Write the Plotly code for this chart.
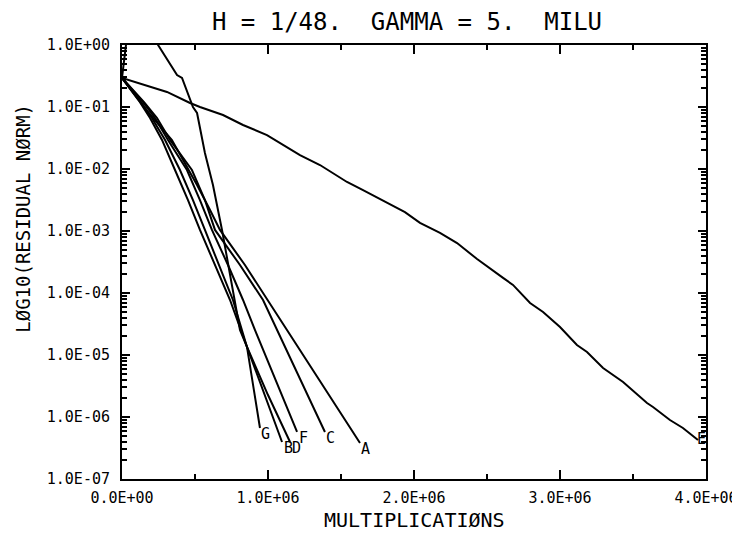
import math
import plotly.graph_objects as go

# ---- data (x in multiplications, y = residual norm) ----
A_x = [0, 0.089e6, 0.178e6, 0.342e6, 0.411e6, 0.514e6, 0.603e6, 0.671e6, 0.842e6, 1.000e6, 1.130e6, 1.630e6]
A_y = [0.294, 0.156, 0.083, 0.0294, 0.0150, 0.00552, 0.00218, 0.00104, 2.83e-4, 7.71e-5, 2.53e-5, 3.81e-7]

B_x = [0, 0.123e6, 0.192e6, 0.274e6, 0.363e6, 0.452e6, 0.534e6, 0.637e6, 0.740e6, 0.856e6, 0.979e6, 1.096e6]
B_y = [0.294, 0.120, 0.0665, 0.0294, 0.00964, 0.00316, 0.00104, 2.83e-4, 7.71e-5, 1.35e-5, 2.26e-6, 3.95e-7]

C_x = [0, 0.151e6, 0.240e6, 0.329e6, 0.479e6, 0.568e6, 0.637e6, 0.808e6, 0.966e6, 1.062e6, 1.390e6]
C_y = [0.294, 0.120, 0.0665, 0.0294, 0.00964, 0.00316, 0.00104, 2.83e-4, 7.71e-5, 2.53e-5, 5.73e-7]

D_x = [0, 0.130e6, 0.205e6, 0.295e6, 0.397e6, 0.486e6, 0.568e6, 0.664e6, 0.760e6, 0.856e6, 1.000e6, 1.151e6]
D_y = [0.294, 0.120, 0.0665, 0.0294, 0.00964, 0.00316, 0.00104, 2.83e-4, 7.71e-5, 1.35e-5, 2.26e-6, 3.95e-7]

E_x = [0, 0.308e6, 0.466e6, 0.534e6, 0.692e6, 0.829e6, 0.993e6, 1.219e6, 1.356e6, 1.541e6, 1.651e6,
       1.815e6, 1.938e6, 2.041e6, 2.178e6, 2.295e6, 2.432e6, 2.610e6, 2.678e6, 2.795e6, 2.884e6,
       3.000e6, 3.116e6, 3.185e6, 3.295e6, 3.432e6, 3.596e6, 3.637e6, 3.753e6, 3.842e6, 3.945e6]
E_y = [0.294, 0.175, 0.116, 0.100, 0.0743, 0.0513, 0.0353, 0.0168, 0.0116, 0.00617, 0.00458,
       0.00283, 0.00202, 0.00135, 9.29e-4, 6.40e-4, 3.53e-4, 1.75e-4, 1.35e-4, 6.90e-5, 4.94e-5,
       2.83e-5, 1.45e-5, 1.12e-5, 6.17e-6, 3.67e-6, 1.68e-6, 1.45e-6, 8.95e-7, 6.65e-7, 4.26e-7]

F_x = [0, 0.144e6, 0.226e6, 0.315e6, 0.445e6, 0.534e6, 0.616e6, 0.726e6, 0.829e6, 0.911e6, 1.199e6]
F_y = [0.294, 0.120, 0.0665, 0.0294, 0.00964, 0.00316, 0.00104, 2.83e-4, 7.71e-5, 2.53e-5, 5.73e-7]

G_x = [0, 0.062e6, 0.247e6, 0.377e6, 0.411e6, 0.486e6, 0.514e6, 0.568e6, 0.623e6, 0.685e6, 0.808e6, 0.856e6, 0.945e6]
G_y = [0.294, 4.8, 1.0, 0.328, 0.294, 0.100, 0.080, 0.0181, 0.00552, 0.00104, 2.53e-5, 1.35e-5, 6.65e-7]

series_names = ["A", "B", "C", "D", "E", "F", "G"]
series_x = [A_x, B_x, C_x, D_x, E_x, F_x, G_x]
series_y = [A_y, B_y, C_y, D_y, E_y, F_y, G_y]

x_tickvals = [0, 1e6, 2e6, 3e6, 4e6]
x_ticktext = ["0.0E+00", "1.0E+06", "2.0E+06", "3.0E+06", "4.0E+06"]
y_tickvals = [1e0, 1e-1, 1e-2, 1e-3, 1e-4, 1e-5, 1e-6, 1e-7]
y_ticktext = ["1.0E+00", "1.0E-01", "1.0E-02", "1.0E-03", "1.0E-04", "1.0E-05", "1.0E-06", "1.0E-07"]

title_text = "H = 1/48.  GAMMA = 5.  MILU"
x_title = "MULTIPLICATIØNS"
y_title = "LØG10(RESIDUAL NØRM)"

FONT = "DejaVu Sans Mono"

# minor tick positions (styling only)
x_minor = [0.5e6, 1.5e6, 2.5e6, 3.5e6]
y_minor = [k * 10.0 ** (-d) for d in range(1, 8) for k in range(2, 10)]

# the page body adds an 8px offset, so the figure is 8px smaller than the window
W, H = 732, 534

fig = go.Figure()
for name, xs, ys in zip(series_names, series_x, series_y):
    fig.add_trace(go.Scatter(x=xs, y=ys, mode="lines", name=name,
                             line=dict(color="black", width=2), showlegend=False))
    fig.add_annotation(x=xs[-1], y=math.log10(ys[-1]), xref="x", yref="y", text=name,
                       showarrow=False, xanchor="center", yanchor="middle",
                       xshift=6 if name != "E" else 4, yshift=-6 if name != "E" else 1,
                       font=dict(family=FONT, size=15, color="black"))

axis_common = dict(showgrid=False, zeroline=False, showline=True, linecolor="black",
                   linewidth=2, mirror="allticks", ticks="inside", tickcolor="black",
                   tickwidth=2, automargin=False,
                   tickfont=dict(family=FONT, size=15, color="black"))

fig.update_xaxes(range=[0, 4e6], tickmode="array", tickvals=x_tickvals, ticktext=x_ticktext,
                 ticklen=9, ticklabelstandoff=4,
                 minor=dict(ticks="inside", ticklen=5, tickmode="array", tickvals=x_minor,
                            tickcolor="black", tickwidth=1.5, showgrid=False),
                 **axis_common)
fig.update_yaxes(type="log", range=[-7, 0], tickmode="array", tickvals=y_tickvals, ticktext=y_ticktext,
                 ticklen=8, ticklabelstandoff=7,
                 minor=dict(ticks="inside", ticklen=5, tickmode="array", tickvals=y_minor,
                            tickcolor="black", tickwidth=1.5, showgrid=False),
                 **axis_common)

fig.add_annotation(text=x_title, xref="paper", yref="paper", x=0.5, y=-0.095,
                   xanchor="center", yanchor="middle", showarrow=False,
                   font=dict(family=FONT, size=20, color="black"))
fig.add_annotation(text=y_title, xref="paper", yref="paper", x=-0.171, y=0.60,
                   xanchor="center", yanchor="middle", showarrow=False, textangle=-90,
                   font=dict(family=FONT, size=19, color="black"))

fig.update_layout(
    width=W, height=H,
    margin=dict(l=114, r=34, t=37, b=63, autoexpand=False),
    paper_bgcolor="white", plot_bgcolor="white",
    title=dict(text=title_text, x=0.488, xref="paper", y=1 - 14 / H, yref="container",
               xanchor="center", yanchor="middle",
               font=dict(family=FONT, size=24, color="black")),
)

fig.write_html("out.html")
